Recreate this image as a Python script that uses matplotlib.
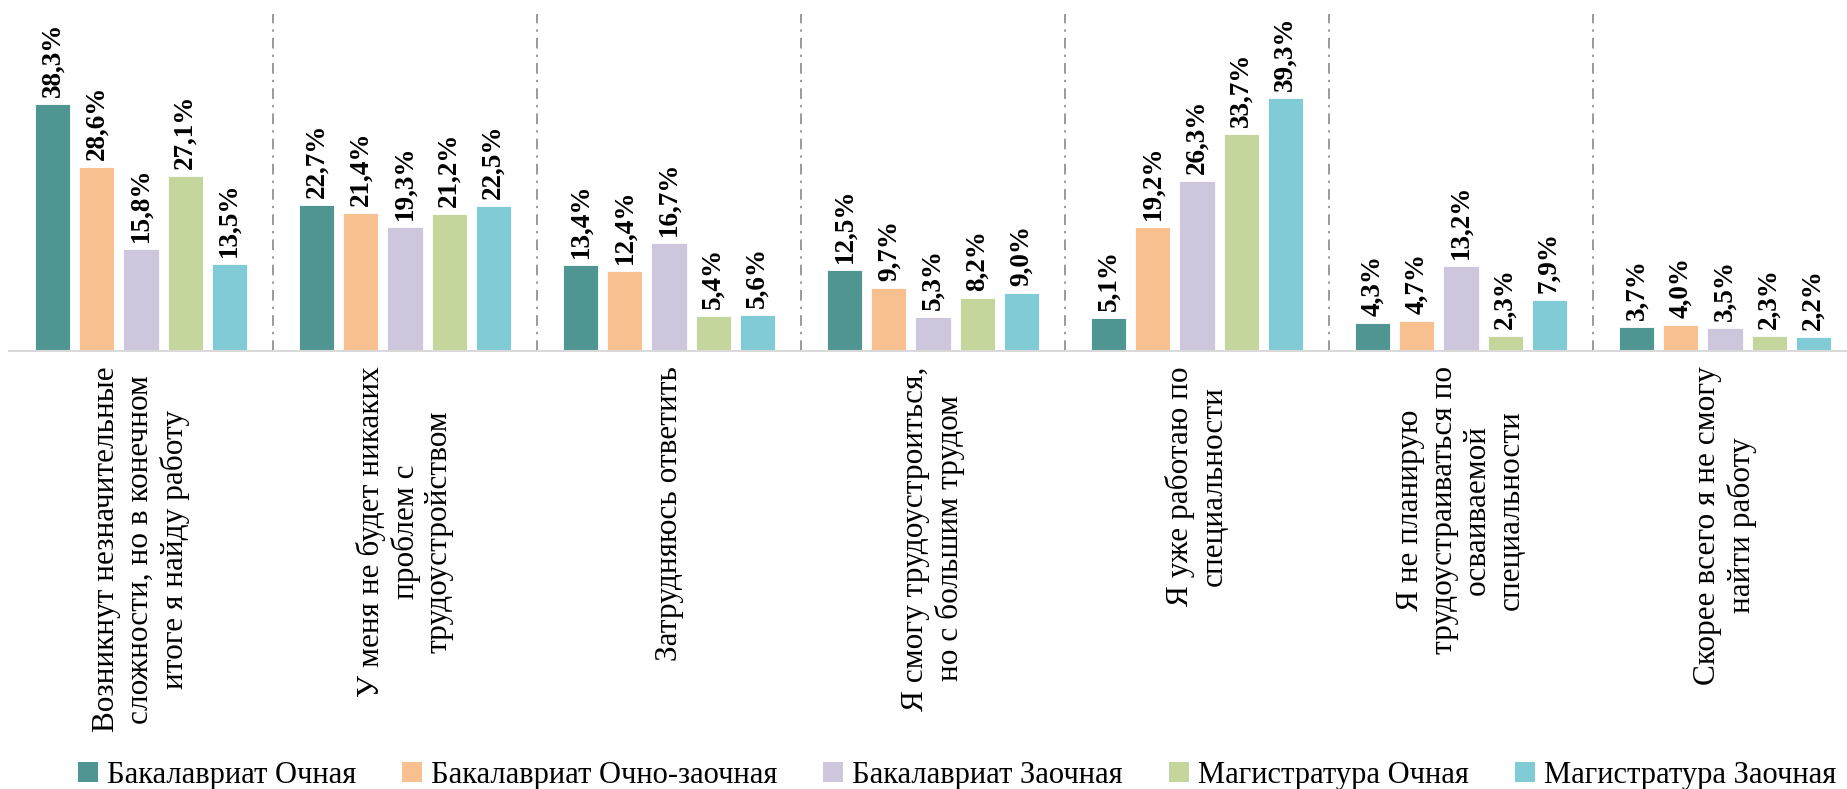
import matplotlib.pyplot as plt
from matplotlib.patches import Patch
import numpy as np

plt.rcParams['font.family'] = ['Liberation Serif', 'DejaVu Serif']

# Данные
categories = [
    "Возникнут незначительные\nсложности, но в конечном\nитоге я найду работу",
    "У меня не будет никаких\nпроблем с\nтрудоустройством",
    "Затрудняюсь ответить",
    "Я смогу трудоустроиться,\nно с большим трудом",
    "Я уже работаю по\nспециальности",
    "Я не планирую\nтрудоустраиваться по\nосваиваемой\nспециальности",
    "Скорее всего я не смогу\nнайти работу",
]
series_names = ["Бакалавриат Очная", "Бакалавриат Очно-заочная", "Бакалавриат Заочная",
                "Магистратура Очная", "Магистратура Заочная"]
bak_och = [38.3, 22.7, 13.4, 12.5, 5.1, 4.3, 3.7]
bak_och_zaoch = [28.6, 21.4, 12.4, 9.7, 19.2, 4.7, 4.0]
bak_zaoch = [15.8, 19.3, 16.7, 5.3, 26.3, 13.2, 3.5]
mag_och = [27.1, 21.2, 5.4, 8.2, 33.7, 2.3, 2.3]
mag_zaoch = [13.5, 22.5, 5.6, 9.0, 39.3, 7.9, 2.2]
series = [bak_och, bak_och_zaoch, bak_zaoch, mag_och, mag_zaoch]
colors = ['#4F9592', '#F9C08F', '#CEC6DC', '#C4D69C', '#81CBD7']

W, H = 1847, 789
fig = plt.figure(figsize=(W / 100, H / 100), dpi=100)
ax = fig.add_axes([9 / W, (H - 351) / H, 1848 / W, 351 / H])

x = np.arange(len(categories))
bw = 0.1326
pitch = 0.1667

for i, (vals, col) in enumerate(zip(series, colors)):
    pos = x + (i - 2) * pitch
    ax.bar(pos, vals, width=bw, color=col, edgecolor='white', linewidth=0.6, zorder=2)
    for xb, v in zip(pos, vals):
        ax.annotate(f"{v:.1f}%".replace('.', ','), (xb, v), xytext=(0, 5),
                    textcoords='offset points', rotation=90, ha='center', va='bottom',
                    fontsize=19.5, fontweight='bold', color='black')

# Разделители между группами
for s in np.arange(0.5, len(categories) - 1, 1):
    ax.plot([s, s], [0, 52.2], color='#7F7F7F', linewidth=1.1,
            linestyle=(0, (7, 4, 1.5, 4)), zorder=1)

ax.set_xlim(-0.5, len(categories) - 0.5)
ax.set_ylim(0, 351 / 6.45)

for sp in ['top', 'right', 'left']:
    ax.spines[sp].set_visible(False)
ax.spines['bottom'].set_color('#D9D9D9')
ax.spines['bottom'].set_linewidth(1.5)
ax.set_yticks([])
ax.set_xticks(x)
ax.set_xticklabels(categories, rotation=90, ha='center', va='top',
                   multialignment='center', fontsize=22.5, linespacing=1.2)
ax.tick_params(axis='x', length=0, pad=11)

handles = [Patch(facecolor=c, edgecolor='none') for c in colors]
fig.legend(handles, series_names, loc='center', bbox_to_anchor=(957 / W, 14 / H),
           ncol=5, frameon=False, fontsize=22, handlelength=0.65, handleheight=0.65,
           handletextpad=0.3, columnspacing=1.5, borderpad=0)

fig.savefig('out.png', dpi=100)
